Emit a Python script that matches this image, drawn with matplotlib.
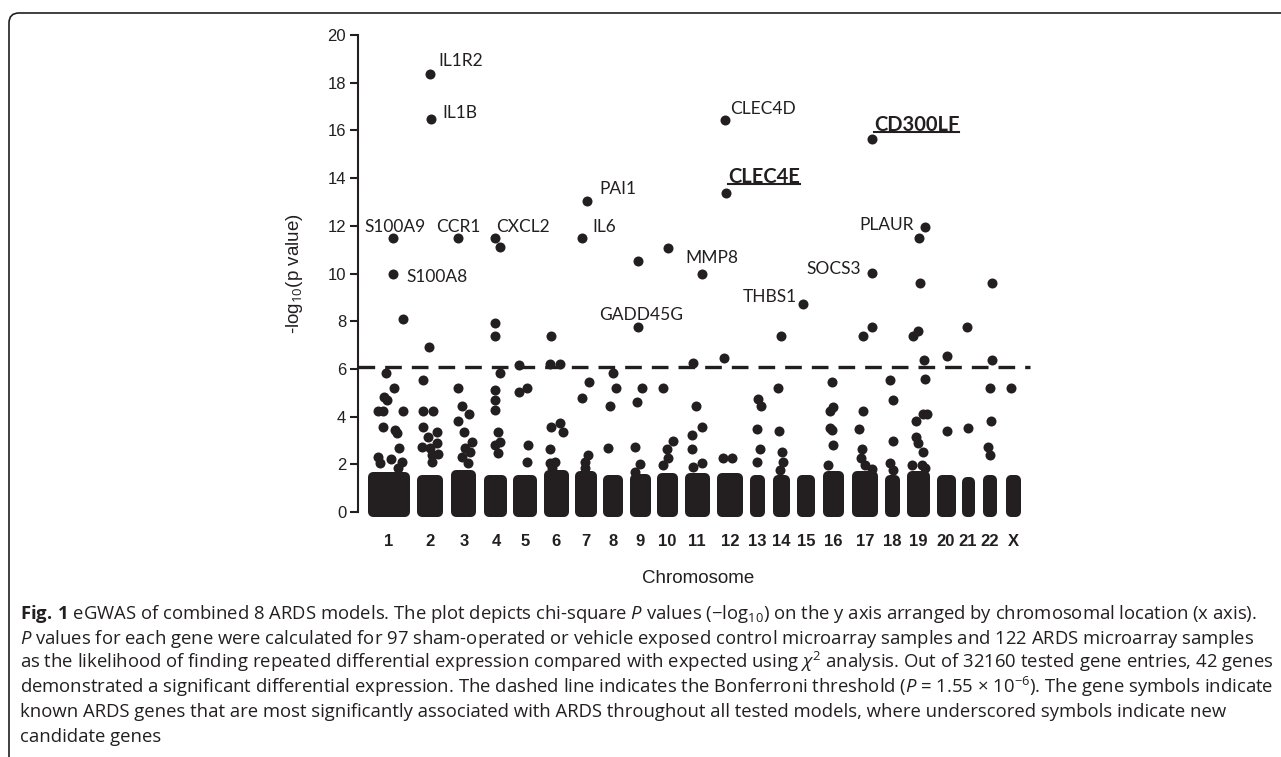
"""eGWAS Manhattan-style plot of combined ARDS models (Fig. 1 recreation)."""

import matplotlib
matplotlib.use("Agg")
import matplotlib.pyplot as plt
from matplotlib.lines import Line2D
from matplotlib.patches import FancyBboxPatch
from matplotlib.transforms import IdentityTransform

INK = "#231f20"
W, H = 1281, 757

# ---------- data -----------------------------------------------------------
chrom_labels = ["1", "2", "3", "4", "5", "6", "7", "8", "9", "10", "11", "12",
                "13", "14", "15", "16", "17", "18", "19", "20", "21", "22", "X"]
chrom_pos = [31, 72, 106, 138, 167, 198, 228, 255, 282, 309, 339, 372,
             399, 423, 448, 475, 507, 534, 560, 588, 610, 632, 655]
chrom_span = [32, 16, 15, 13, 14, 15, 12, 10, 11, 11, 15, 16,
              5, 7, 8, 11, 16, 5, 13, 9, 3, 4, 5]
# dense band of non-significant genes: upper edge of -log10(p)
band_top = [1.45, 1.35, 1.55, 1.35, 1.35, 1.55, 1.5, 1.35, 1.4, 1.43, 1.43, 1.43,
            1.35, 1.35, 1.35, 1.5, 1.5, 1.35, 1.5, 1.35, 1.28, 1.35, 1.35]

hit_x = [
    45, 28, 36, 26, 29, 20, 25, 45, 25, 37, 39, 20, 22, 33, 41, 44, 40,          # 1
    71, 65, 65, 75, 65, 70, 79, 64, 72, 79, 74, 80, 74,                          # 2
    100, 104, 111, 100, 106, 114, 104, 112, 110, 107,                            # 3
    142, 137, 137, 142, 137, 137, 137, 140, 137, 142, 140,                       # 4
    161, 161, 169, 170, 169,                                                     # 5
    193, 192, 202, 193, 202, 205, 192, 192, 197, 194,                            # 6
    231, 224, 230, 227, 227,                                                     # 7
    255, 258, 252, 250,                                                          # 8
    280, 279, 284, 277, 282, 277,                                                # 9
    310, 305, 315, 309, 310, 305,                                                # 10
    335, 338, 344, 334, 334, 344, 335,                                           # 11
    366, 365, 374,                                                               # 12
    400, 403, 399, 402, 399,                                                     # 13
    423, 420, 421, 424, 425, 422,                                                # 14
    474, 475, 472, 472, 474, 475, 470,                                           # 16
    514, 505, 505, 501, 504, 503, 507, 514,                                      # 17
    532, 535, 535, 532, 535,                                                     # 18
    561, 562, 560, 555, 566, 567, 565, 569, 558, 558, 560, 565, 554, 564, 567,   # 19
    589, 589,                                                                    # 20
    609, 610,                                                                    # 21
    634, 634, 632, 633, 630, 632,                                                # 22
    653,                                                                         # X
]
hit_y = [
    8.09, 5.83, 5.2, 4.82, 4.7, 4.23, 4.23, 4.23, 3.57, 3.44, 3.3, 2.3, 2.05, 2.22, 2.68, 2.1, 1.84,
    6.92, 5.53, 4.23, 4.23, 3.57, 3.15, 3.35, 2.72, 2.68, 2.89, 2.39, 2.43, 2.1,
    5.2, 4.44, 4.1, 3.82, 3.35, 2.94, 2.3, 2.5, 2.05, 2.68,
    11.1, 7.92, 7.38, 5.83, 5.1, 4.7, 4.28, 3.35, 2.8, 2.94, 2.47,
    6.16, 5.03, 5.2, 2.8, 2.1,
    7.38, 6.2, 6.2, 3.57, 3.73, 3.35, 2.64, 2.05, 2.1, 1.84,
    5.45, 4.78, 2.39, 2.1, 1.84,
    5.83, 5.2, 4.44, 2.68,
    10.53, 4.6, 5.2, 2.72, 2.01, 1.68,
    11.07, 5.2, 2.98, 2.64, 2.26, 1.97,
    6.25, 4.44, 3.57, 3.23, 2.64, 2.05, 1.89,
    6.46, 2.26, 2.26,
    4.74, 4.44, 3.48, 2.64, 2.1,
    7.38, 5.2, 3.4, 2.52, 2.1, 1.76,
    5.45, 4.4, 4.23, 3.52, 3.44, 2.8, 1.97,
    7.76, 7.38, 4.23, 3.48, 2.64, 2.26, 1.97, 1.8,
    5.53, 4.7, 2.98, 2.05, 1.76,
    11.49, 9.6, 7.59, 7.38, 6.37, 5.58, 4.1, 4.1, 3.82, 3.14, 2.89, 2.52, 1.97, 1.97, 1.84,
    6.54, 3.4,
    7.76, 3.52,
    9.6, 6.37, 5.2, 3.82, 2.72, 2.39,
    5.2,
]

gene_names = ["IL1R2", "IL1B", "PAI1", "S100A9", "CCR1", "CXCL2", "IL6", "S100A8",
              "GADD45G", "MMP8", "THBS1", "SOCS3", "PLAUR", "CLEC4D", "CLEC4E", "CD300LF"]
gene_x = [72, 73, 229, 35, 100, 137, 224, 35, 280, 344, 445, 514, 567, 367, 368, 514]
gene_y = [18.36, 16.48, 13.04, 11.49, 11.49, 11.49, 11.49, 9.98,
          7.76, 10.0, 8.72, 10.02, 11.96, 16.44, 13.37, 15.65]
new_candidates = ["CLEC4E", "CD300LF"]

bonferroni = 6.07

caption_lines = [
    r"$\mathbf{Fig.\,1}$ eGWAS of combined 8 ARDS models. The plot depicts chi-square "
    r"$\mathit{P}$ values (−log$_{10}$) on the y axis arranged by chromosomal location (x axis).",
    r"$\mathit{P}$ values for each gene were calculated for 97 sham-operated or vehicle exposed "
    r"control microarray samples and 122 ARDS microarray samples",
    r"as the likelihood of finding repeated differential expression compared with expected using "
    r"$\chi^2$ analysis. Out of 32160 tested gene entries, 42 genes",
    r"demonstrated a significant differential expression. The dashed line indicates the Bonferroni "
    r"threshold ($\mathit{P}$ = 1.55 × 10$^{-6}$). The gene symbols indicate",
    "known ARDS genes that are most significantly associated with ARDS throughout all tested "
    "models, where underscored symbols indicate new",
    "candidate genes",
]

# label placement: (dx px, dy px, horizontal alignment)
label_style = {
    "IL1R2": (8, 13, "left"), "IL1B": (11, 6, "left"), "PAI1": (12, 12, "left"),
    "S100A9": (2, 11, "center"), "CCR1": (0, 11, "center"), "CXCL2": (1, 11, "left"),
    "IL6": (10, 11, "left"), "S100A8": (13, -3, "left"), "GADD45G": (3, 12, "center"),
    "MMP8": (-17, 16, "left"), "THBS1": (-6, 7, "right"), "SOCS3": (-11, 4, "right"),
    "PLAUR": (-11, 2, "right"), "CLEC4D": (5, 11, "left"), "CLEC4E": (2, 16, "left"),
    "CD300LF": (2, 14, "left"),
}


# ---------- drawing --------------------------------------------------------
def px_rect(left, top, right, bottom):
    return [left / W, 1 - bottom / H, (right - left) / W, (bottom - top) / H]


plt.rcParams["mathtext.fontset"] = "custom"
plt.rcParams["mathtext.rm"] = "Open Sans"
plt.rcParams["mathtext.it"] = "Open Sans:italic"
plt.rcParams["mathtext.bf"] = "Open Sans:bold"

fig = plt.figure(figsize=(W / 100, H / 100), dpi=100)
ax = fig.add_axes(px_rect(358, 27.8, 1038, 519.2))
ax.set_xlim(0, 680)
ax.set_ylim(-0.3, 20.3)

# dense band of low-significance genes per chromosome
bars = ax.bar(chrom_pos, [t - 0.02 for t in band_top], width=chrom_span, bottom=0.02,
              color=INK, edgecolor=INK, linewidth=7.2, clip_on=False)
for b in bars:
    b.set_joinstyle("round")

ax.scatter(hit_x, hit_y, s=52, color=INK, linewidths=0, clip_on=False, zorder=3)
ax.scatter(gene_x, gene_y, s=52, color=INK, linewidths=0, clip_on=False, zorder=3)

ax.axhline(bonferroni, xmin=0, xmax=672 / 680, color=INK, lw=2.4,
           linestyle=(0, (5, 3)), zorder=2)

texts = {}
for name, x, y in zip(gene_names, gene_x, gene_y):
    dx, dy, ha = label_style[name]
    bold = name in new_candidates
    texts[name] = ax.annotate(name, (x, y), xytext=(dx * 0.72, dy * 0.72),
                              textcoords="offset points", ha=ha, va="center",
                              family="Lato", color=INK,
                              fontsize=14.5 if bold else 12.5,
                              fontweight="bold" if bold else "normal",
                              annotation_clip=False)

for side in ("top", "right", "bottom"):
    ax.spines[side].set_visible(False)
ax.spines["left"].set_bounds(0, 20)
ax.spines["left"].set_linewidth(1.5)
ax.spines["left"].set_color(INK)

ax.set_yticks(range(0, 21, 2))
ax.tick_params(axis="y", length=5.5, width=1.5, color=INK, labelcolor=INK,
               labelsize=12, pad=3)
for lab in ax.get_yticklabels():
    lab.set_family("Liberation Sans")

ax.set_xticks(chrom_pos)
ax.set_xticklabels(chrom_labels, fontsize=12, fontweight="bold",
                   family="Liberation Sans", color=INK)
ax.tick_params(axis="x", length=0, pad=11)

ax.set_ylabel("-log$_{10}$(p value)", fontsize=13.5, family="Liberation Sans",
              color=INK, labelpad=16)
ax.set_xlabel("Chromosome", fontsize=13.5, family="Liberation Sans",
              color=INK, labelpad=15)

# outer frame with rounded top-left corner
frame = FancyBboxPatch((9, -40), W + 40, H - 13 + 40,
                       boxstyle="round,pad=0,rounding_size=10",
                       transform=IdentityTransform(), fill=False,
                       edgecolor=INK, linewidth=1.2)
fig.add_artist(frame)

# caption, sized so the widest line spans the panel width
caption_base = [619, 644, 668, 693, 717, 742]
cap = [fig.text(20 / W, 1 - yb / H, line, family="Open Sans", fontsize=12,
                color=INK, ha="left", va="baseline")
       for line, yb in zip(caption_lines, caption_base)]
fig.canvas.draw()
renderer = fig.canvas.get_renderer()
widest = max(t.get_window_extent(renderer).width for t in cap)
for t in cap:
    t.set_fontsize(12 * (1268 - 20) / widest)

# underline the new candidate genes
fig.canvas.draw()
for name in new_candidates:
    bb = texts[name].get_window_extent(renderer)
    fig.add_artist(Line2D([bb.x0, bb.x1], [bb.y0 + 3, bb.y0 + 3],
                          transform=IdentityTransform(), color=INK, lw=1.5))

fig.savefig("out.png", dpi=100)
